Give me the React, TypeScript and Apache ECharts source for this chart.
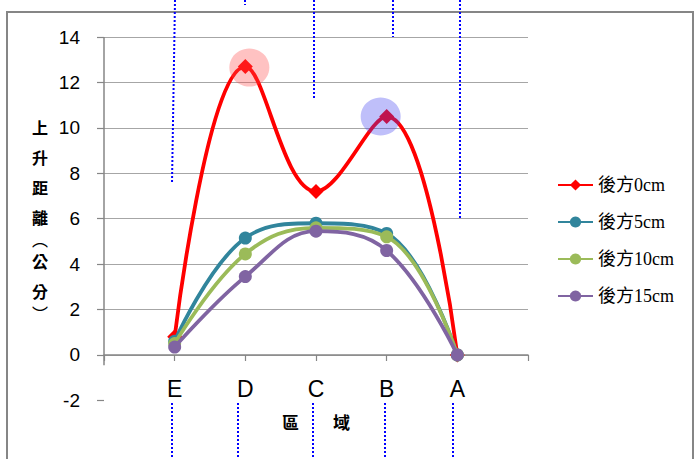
import React, { useEffect, useRef } from 'react';
import * as echarts from 'echarts';

const regions = ['E', 'D', 'C', 'B', 'A'];
const seriesNames = ['後方0cm', '後方5cm', '後方10cm', '後方15cm'];
const back0 = [0.8, 12.7, 7.2, 10.5, 0];
const back5 = [0.6, 5.15, 5.8, 5.35, 0];
const back10 = [0.5, 4.45, 5.6, 5.2, 0];
const back15 = [0.35, 3.45, 5.45, 4.6, 0];
const yMin = -2;
const yMax = 14;
const yStep = 2;

const colors = ['#FF0000', '#31859C', '#9BBB59', '#8064A2'];
const symbols = ['diamond', 'circle', 'circle', 'circle'];

const CJK = "'Noto Sans CJK TC', sans-serif";
const NUM = "'Liberation Sans Narrow', 'Liberation Sans', sans-serif";

const dotted = (x1: number, y1: number, x2: number, y2: number) => ({
  type: 'line',
  z: 100,
  shape: { x1, y1, x2, y2 },
  style: { stroke: '#0000FF', lineWidth: 2, lineDash: [2, 2] },
});

export default function App() {
  const ref = useRef<HTMLDivElement>(null);
  useEffect(() => {
    if (!ref.current) return;
    const chart = echarts.init(ref.current, null, { renderer: 'svg' });
    const all = [back0, back5, back10, back15];
    const nLines = (yMax - yMin) / yStep + 1;
    const splitColors = Array.from({ length: nLines }, (_, i) => (i === 0 ? 'rgba(0,0,0,0)' : '#A6A6A6'));
    const series: any[] = all.map((vals, si) => ({
      name: seriesNames[si],
      type: 'line',
      smooth: 0.4,
      data: vals.map((v, i) => [i + 1, v]),
      symbol: symbols[si],
      symbolSize: si === 0 ? 15 : 13,
      itemStyle: { color: colors[si] },
      lineStyle: { color: colors[si], width: 3.8 },
      z: 2 + si,
    }));
    series[0].markLine = {
      silent: true,
      symbol: 'none',
      label: { show: false },
      lineStyle: { color: '#868686', width: 1.5, type: 'solid' },
      data: [[{ coord: [0, -0.45] }, { coord: [0, yMax] }]],
    };
    series.push({
      type: 'line',
      data: [],
      silent: true,
      z: 20,
      markPoint: {
        silent: true,
        label: { show: false },
        data: [
          {
            coord: [2, back0[1]],
            symbol: 'circle',
            symbolSize: [40, 38],
            symbolOffset: [4, 1],
            itemStyle: { color: 'rgba(255,70,70,0.33)' },
          },
          {
            coord: [4, back0[3]],
            symbol: 'circle',
            symbolSize: [40, 38],
            symbolOffset: [-6, 0],
            itemStyle: { color: 'rgba(60,60,240,0.33)' },
          },
        ],
      },
    });
    chart.setOption({
      animation: false,
      grid: { left: 104, right: 168, top: 37, bottom: 58.6, containLabel: false, outerBoundsMode: 'none' },
      legend: {
        orient: 'vertical',
        left: 552,
        top: 171,
        itemWidth: 35,
        itemHeight: 14,
        itemGap: 19,
        data: seriesNames,
        textStyle: { fontFamily: "'Liberation Serif', 'Noto Sans CJK TC', serif", fontSize: 18, color: '#000' },
      },
      xAxis: {
        type: 'value',
        min: 0,
        max: regions.length + 1,
        interval: 1,
        axisLine: { onZero: true, lineStyle: { color: '#868686', width: 1.5 } },
        axisTick: { show: true, length: 6, lineStyle: { color: '#868686', width: 1.2 } },
        splitLine: { show: false },
        axisLabel: {
          margin: -23,
          fontFamily: NUM,
          fontSize: 23,
          color: '#000',
          formatter: (v: number) => (v >= 1 && v <= regions.length ? regions[v - 1] : ''),
        },
        name: '區\u3000\u3000域',
        nameLocation: 'middle',
        nameGap: 13,
        nameTextStyle: { fontFamily: CJK, fontSize: 17, fontWeight: 'bold', color: '#000', verticalAlign: 'top' },
      },
      yAxis: {
        type: 'value',
        min: yMin,
        max: yMax,
        interval: yStep,
        axisLine: { show: false },
        axisTick: { show: true, length: 7, lineStyle: { color: '#868686', width: 1.2 } },
        splitLine: { show: true, lineStyle: { color: splitColors, width: 1.2 } },
        axisLabel: { margin: 24, fontFamily: NUM, fontSize: 19, color: '#000' },
      },
      graphic: [
        {
          type: 'rect',
          z: -10,
          silent: true,
          shape: { x: 7, y: 12, width: 686, height: 480 },
          style: { fill: 'none', stroke: '#868686', lineWidth: 2 },
        },
        {
          type: 'text',
          left: 32,
          top: 119,
          style: {
            text: '{a|上}\n{a|升}\n{a|距}\n{a|離}\n{p|︵}\n{a|公}\n{a|分}\n{p|︶}',
            align: 'center',
            rich: {
              a: { fontFamily: CJK, fontSize: 16, fontWeight: 'bold', lineHeight: 30, fill: '#000', align: 'center' },
              p: { fontFamily: CJK, fontSize: 16, fontWeight: 'normal', lineHeight: 14, fill: '#000', align: 'center' },
            },
          },
        },
        dotted(175, 0, 172, 183),
        dotted(245, 0, 245, 5),
        dotted(314, 0, 314, 100),
        dotted(393, 0, 393, 37),
        dotted(460, 0, 460, 218),
        dotted(172, 403, 172, 459),
        dotted(238, 403, 238, 459),
        dotted(313, 403, 313, 459),
        dotted(385, 403, 385, 459),
        dotted(453, 403, 453, 459),
      ],
      series,
    });
    return () => chart.dispose();
  }, []);
  return (
    <div
      ref={ref}
      style={{ position: 'fixed', left: 0, top: 0, width: 696, height: 459, background: '#fff' }}
    />
  );
}
